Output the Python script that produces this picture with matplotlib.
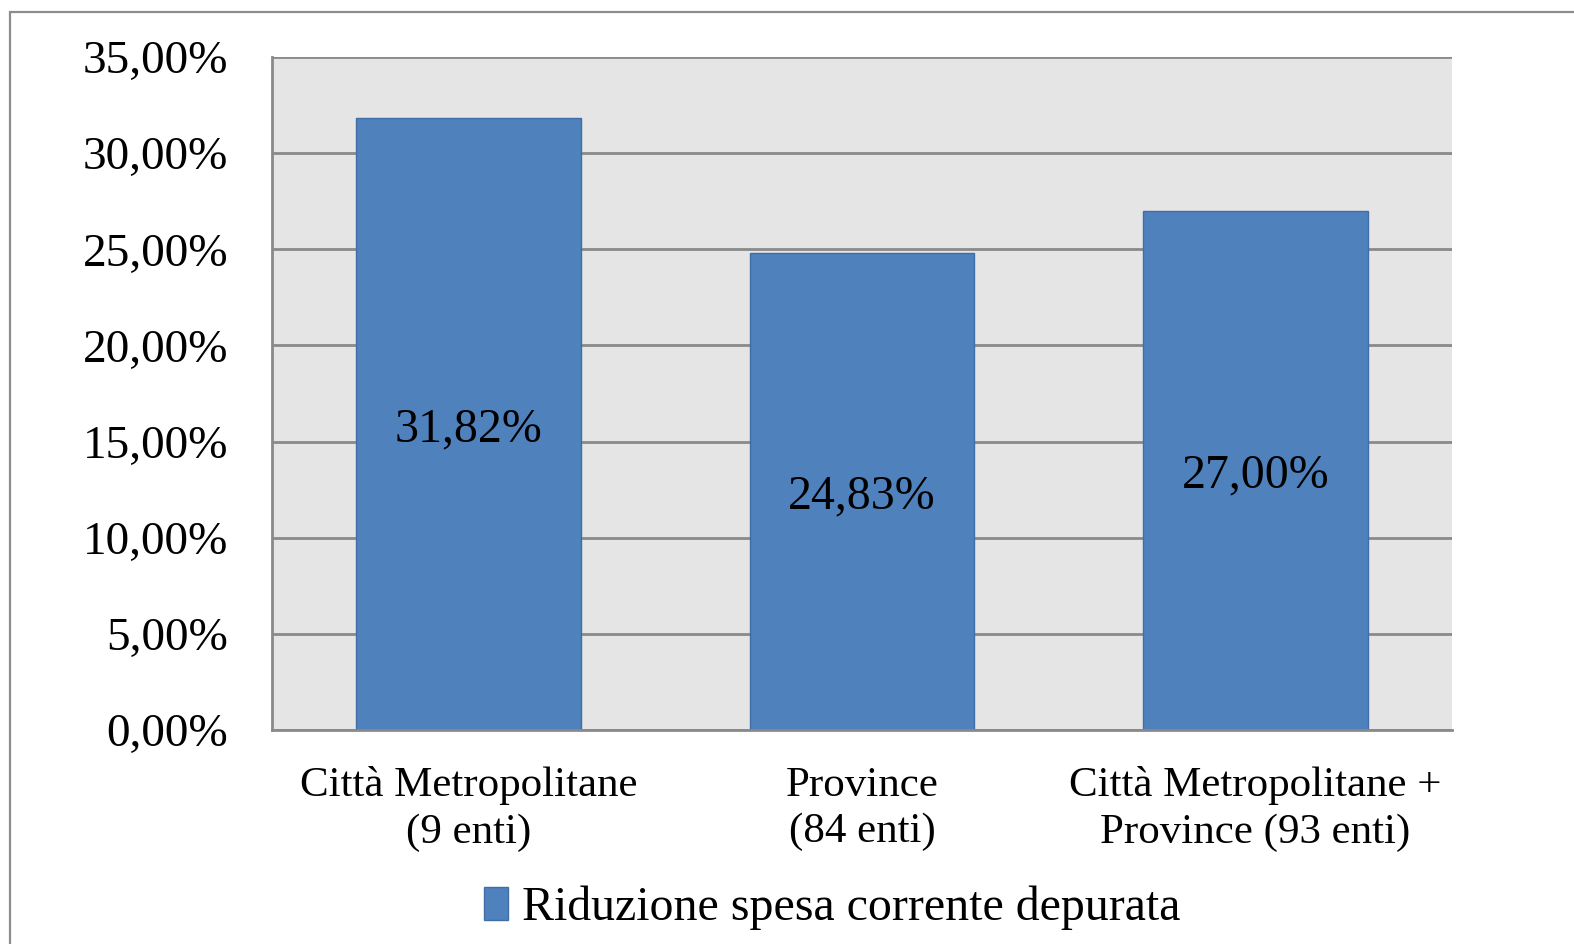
import matplotlib
matplotlib.use("Agg")
import matplotlib.pyplot as plt
from matplotlib.patches import Rectangle, Patch
from matplotlib.ticker import FuncFormatter, MultipleLocator

categories = ["Città Metropolitane\n(9 enti)", "Province\n(84 enti)", "Città Metropolitane +\nProvince (93 enti)"]
values = [31.82, 24.83, 27.00]
series_name = "Riduzione spesa corrente depurata"

plt.rcParams['font.family'] = ['Liberation Serif', 'DejaVu Serif']

fig = plt.figure(figsize=(15.74, 9.44), dpi=100)
fig.patch.set_facecolor('white')

# outer chart border
fig.patches.append(Rectangle((10/1574, -0.05), 1.2, 1 - 12/944 + 0.05, transform=fig.transFigure,
                             fill=False, edgecolor='#8c8c8c', linewidth=1.6, zorder=0))

ax = fig.add_axes([272/1574, 1 - 730/944, (1452-272)/1574, (730-57)/944])
ax.set_facecolor('#e5e5e5')

x = range(len(categories))
bars = ax.bar(x, values, width=0.572, color='#4f81bd', edgecolor='#3f6ea6', linewidth=1.0, zorder=3)

ax.set_xlim(-0.5, len(categories) - 0.5)
ax.set_ylim(0, 35)
ax.yaxis.set_major_locator(MultipleLocator(5))
ax.yaxis.set_major_formatter(FuncFormatter(lambda v, p: f"{v:.2f}".replace('.', ',') + "%"))
ax.grid(axis='y', color='#8a8a8a', linewidth=2.0, zorder=1)
ax.set_axisbelow(True)

for s in ['top', 'right']:
    ax.spines[s].set_visible(False)
for s in ['left', 'bottom']:
    ax.spines[s].set_color('#8a8a8a')
    ax.spines[s].set_linewidth(2.0)
    ax.spines[s].set_zorder(4)

ax.tick_params(axis='y', length=0, pad=31.5, labelsize=34)
ax.tick_params(axis='x', length=0, pad=26, labelsize=31)
ax.set_xticks(list(x))
ax.set_xticklabels(categories, linespacing=1.28)

for b, v in zip(bars, values):
    ax.text(b.get_x() + b.get_width()/2, v/2, f"{v:.2f}".replace('.', ',') + "%",
            ha='center', va='center_baseline', fontsize=34.5, zorder=5)

handle = Patch(facecolor='#4f81bd', edgecolor='#3f6ea6')
fig.legend([handle], [series_name], loc='center', bbox_to_anchor=(832/1574, 1 - 908/944),
           frameon=False, fontsize=34.5, handlelength=0.5, handleheight=0.7, handletextpad=0.3)

fig.savefig("out.png", dpi=100)
